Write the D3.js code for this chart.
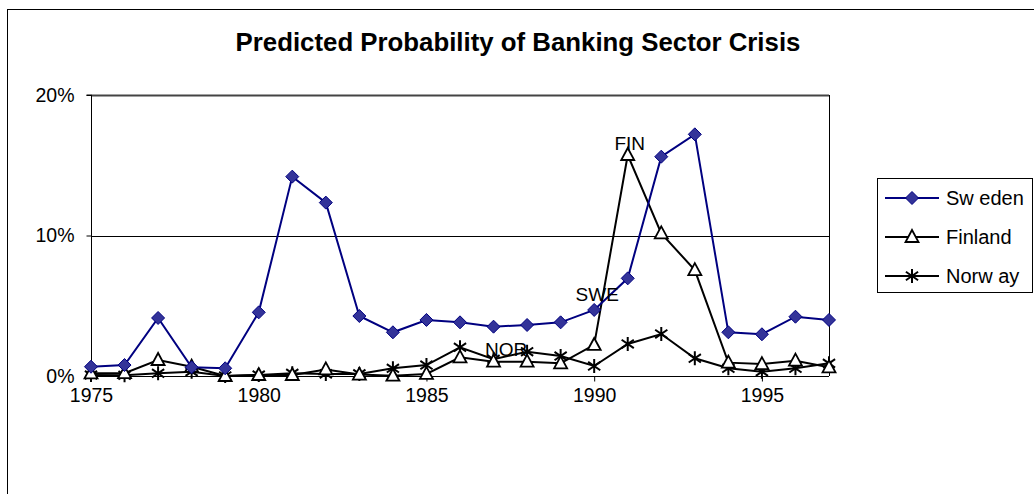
<!DOCTYPE html>
<html><head><meta charset="utf-8">
<script src="https://cdn.jsdelivr.net/npm/d3@7"></script>
<style>
html,body{margin:0;padding:0;background:#fff;}
svg{display:block;font-family:"Liberation Sans",Arial,sans-serif;}
</style></head>
<body>
<svg id="chart" width="1034" height="494"></svg>
<script>
const years = d3.range(1975, 1998);
const sweden  = [0.66,0.78,4.13,0.62,0.55,4.53,14.19,12.34,4.27,3.11,3.99,3.82,3.51,3.63,3.82,4.70,6.95,15.61,17.20,3.11,2.97,4.22,3.99];
const finland = [0.19,0.20,1.14,0.66,0.00,0.07,0.07,0.47,0.10,0.02,0.15,1.33,1.02,1.02,0.90,2.21,15.73,10.15,7.54,0.95,0.85,1.09,0.62];
const norway  = [0.07,0.05,0.19,0.31,0.00,0.07,0.19,0.15,0.15,0.55,0.78,2.04,1.19,1.73,1.42,0.71,2.28,2.99,1.26,0.55,0.31,0.55,0.90];
const yTicks = [0, 10, 20];
const xTicks = [1975, 1980, 1985, 1990, 1995];
const seriesNames = ["Sw eden", "Finland", "Norw ay"];
const pointLabels = [
  {text: "FIN", year: 1991, series: "finland"},
  {text: "SWE", year: 1990, series: "sweden"},
  {text: "NOR", year: 1987, series: "norway"}
];

const svg = d3.select("#chart");
const L = 91, R = 829, T = 95, B = 376;
const x = d3.scaleLinear().domain([1975, 1997]).range([L, R]);
const y = d3.scaleLinear().domain([0, 20]).range([B, T]);
const FONT = "Liberation Sans, Arial, sans-serif";

// outer chart border
svg.append("rect").attr("x", 7.5).attr("y", 9.5).attr("width", 1040).attr("height", 500)
  .attr("fill", "#fff").attr("stroke", "#000").attr("stroke-width", 1);

// title
svg.append("text").attr("x", 518).attr("y", 51).attr("text-anchor", "middle")
  .attr("font-size", 25.8).attr("font-weight", "bold").attr("fill", "#000")
  .text("Predicted Probability of Banking Sector Crisis");

// gridlines
svg.append("g").selectAll("line").data(yTicks.filter(d => d > 0)).join("line")
  .attr("x1", L).attr("x2", R).attr("y1", d => Math.round(y(d)) + 0.5).attr("y2", d => Math.round(y(d)) + 0.5)
  .attr("stroke", d => d === 20 ? "#444" : "#000").attr("stroke-width", d => d === 20 ? 2 : 1);
// right border of plot
svg.append("line").attr("x1", R + 0.5).attr("x2", R + 0.5).attr("y1", T).attr("y2", B)
  .attr("stroke", "#000").attr("stroke-width", 1);

// y axis
const yAxis = d3.axisLeft(y).tickValues(yTicks).tickFormat(d => d + "%").tickSize(5).tickPadding(12);
const gy = svg.append("g").attr("transform", `translate(${L + 0.5},0)`).call(yAxis);
gy.selectAll("text").attr("font-size", 19.5).attr("fill", "#000").attr("font-family", FONT);
gy.selectAll("line,path").attr("stroke", "#000");
gy.select(".domain").attr("d", `M-5,${T}H0V${B}`);

// x axis
const xAxis = d3.axisBottom(x).tickValues(xTicks).tickFormat(d3.format("d")).tickSize(5).tickPadding(7);
const gx = svg.append("g").attr("transform", `translate(0,${B + 0.5})`).call(xAxis);
gx.selectAll("text").attr("font-size", 19.5).attr("fill", "#000").attr("font-family", FONT);
gx.selectAll("line,path").attr("stroke", "#000");
gx.select(".domain").attr("d", `M${L},0H${R}`);

const line = d3.line().x((d, i) => x(years[i])).y(d => y(d));

// Norway
const gN = svg.append("g");
gN.append("path").datum(norway).attr("d", line).attr("fill", "none").attr("stroke", "#000").attr("stroke-width", 2);
const star = r => `M0,${-r}V${r}M${-r*0.87},${-r*0.6}L${r*0.87},${r*0.6}M${-r*0.87},${r*0.6}L${r*0.87},${-r*0.6}`;
gN.selectAll("path.m").data(norway).join("path").attr("class", "m")
  .attr("transform", (d, i) => `translate(${x(years[i])},${y(d)})`)
  .attr("d", star(7)).attr("stroke", "#000").attr("stroke-width", 2).attr("fill", "none");

// Finland
const gF = svg.append("g");
gF.append("path").datum(finland).attr("d", line).attr("fill", "none").attr("stroke", "#000").attr("stroke-width", 2);
const tri = "M0,-7L6.5,5L-6.5,5Z";
gF.selectAll("path.m").data(finland).join("path").attr("class", "m")
  .attr("transform", (d, i) => `translate(${x(years[i])},${y(d)})`)
  .attr("d", tri).attr("stroke", "#000").attr("stroke-width", 1.8).attr("fill", "#fff");

// Sweden
const gS = svg.append("g");
gS.append("path").datum(sweden).attr("d", line).attr("fill", "none").attr("stroke", "#000080").attr("stroke-width", 2);
const dia = "M0,-6.5L6.5,0L0,6.5L-6.5,0Z";
gS.selectAll("path.m").data(sweden).join("path").attr("class", "m")
  .attr("transform", (d, i) => `translate(${x(years[i])},${y(d)})`)
  .attr("d", dia).attr("stroke", "#000080").attr("stroke-width", 1).attr("fill", "#333399");

// point labels
const seriesMap = {sweden, finland, norway};
const labelOffsets = {FIN: [2, -5], SWE: [3, -9], NOR: [12.5, -3]};
svg.append("g").selectAll("text").data(pointLabels).join("text")
  .attr("x", d => x(d.year) + labelOffsets[d.text][0])
  .attr("y", d => y(seriesMap[d.series][d.year - 1975]) + labelOffsets[d.text][1])
  .attr("text-anchor", "middle").attr("font-size", 19).attr("fill", "#000")
  .text(d => d.text);

// legend
const lg = svg.append("g");
lg.append("rect").attr("x", 877.5).attr("y", 178.5).attr("width", 155).attr("height", 114)
  .attr("fill", "#fff").attr("stroke", "#000");
const ly = [198, 237, 276];
const lstroke = ["#000080", "#000", "#000"];
seriesNames.forEach((n, i) => {
  lg.append("line").attr("x1", 885).attr("x2", 939).attr("y1", ly[i]).attr("y2", ly[i])
    .attr("stroke", lstroke[i]).attr("stroke-width", 2);
  const m = lg.append("path").attr("transform", `translate(912,${ly[i]})`);
  if (i === 0) m.attr("d", dia).attr("fill", "#333399").attr("stroke", "#000080");
  if (i === 1) m.attr("d", tri).attr("fill", "#fff").attr("stroke", "#000").attr("stroke-width", 1.8);
  if (i === 2) m.attr("d", star(7)).attr("fill", "none").attr("stroke", "#000").attr("stroke-width", 2);
  lg.append("text").attr("x", 946).attr("y", ly[i] + 7).attr("font-size", 20).attr("fill", "#000").text(n);
});
</script>
</body></html>
